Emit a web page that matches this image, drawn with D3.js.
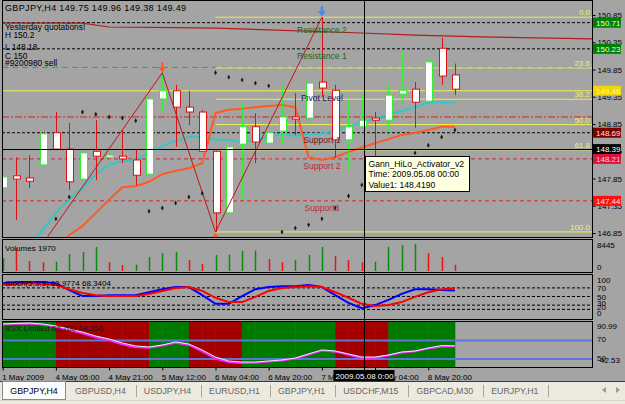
<!DOCTYPE html>
<html>
<head>
<meta charset="utf-8">
<title>GBPJPY,H4</title>
<script src="https://cdn.jsdelivr.net/npm/d3@7/dist/d3.min.js"></script>
<style>
    body { margin: 0; background: #a4a4a4; overflow: hidden; }
    svg { display: block; font-family: "Liberation Sans", Arial, sans-serif; font-size: 8px; }
</style>
</head>
<body>
<svg id="chart" width="625" height="404"></svg>
<script>
/**
 * GBPJPY,H4 terminal chart: candles + levels, volumes, stochastic, RSX
 */

// H4 bars, 1 May 2009 .. 11 May 2009
var opens  = [147.68, 147.90, 147.86, 148.10, 148.69, 148.39, 147.84, 148.35, 148.24, 148.26, 148.19, 147.93, 149.31, 149.46, 149.16, 149.07, 148.35, 147.22, 148.48, 148.80, 148.50, 148.72, 148.98, 148.96, 149.62, 149.47, 148.56, 148.80, 148.96, 148.92, 149.40, 149.49, 149.27, 150.24, 149.75];
var highs  = [147.91, 148.24, 148.28, 148.70, 149.07, 148.87, 148.37, 148.92, 148.56, 148.74, 148.39, 149.69, 149.78, 149.57, 149.46, 149.11, 148.37, 148.80, 149.24, 149.05, 148.80, 149.57, 149.42, 149.66, 150.81, 149.57, 149.29, 149.40, 149.07, 149.57, 150.17, 149.62, 150.06, 150.43, 149.96];
var lows   = [147.60, 147.09, 147.68, 147.82, 148.37, 147.64, 147.24, 147.82, 147.73, 148.13, 147.73, 147.88, 149.07, 148.43, 148.83, 148.34, 146.87, 147.14, 147.46, 148.13, 148.06, 148.50, 148.65, 148.89, 149.35, 148.23, 148.01, 148.78, 148.19, 148.70, 149.24, 148.78, 149.25, 149.57, 149.38];
var closes = [147.88, 147.84, 147.80, 148.67, 148.39, 147.79, 148.32, 148.26, 148.28, 148.21, 147.91, 149.31, 149.46, 149.16, 149.07, 148.35, 147.22, 148.43, 148.80, 148.52, 148.69, 148.98, 148.94, 149.60, 149.51, 148.56, 148.80, 148.92, 148.92, 149.38, 149.47, 149.25, 149.99, 149.73, 149.49];

var volumes  = [4000, 7200, 3130, 2700, 2900, 5300, 5950, 7500, 2800, 1900, 2000, 4400, 5600, 5950, 3450, 2200, 5000, 5100, 6300, 6450, 3750, 2800, 3450, 5000, 7500, 4700, 3450, 2700, 2900, 7500, 8100, 8445, 5600, 4400, 1970];
var volumeUp = [1, 0, 0, 0, 1, 1, 1, 1, 0, 0, 1, 1, 1, 1, 0, 0, 1, 1, 1, 1, 0, 0, 1, 1, 1, 0, 0, 0, 1, 1, 1, 1, 0, 0, 0];

// indicators on the price window
var maCyan   = [null, null, 146.62, 146.90, 147.22, 147.46, 147.68, 147.93, 148.10, 148.17, 148.19, 148.32, 148.45, 148.54, 148.61, 148.61, 148.56, 148.56, 148.52, 148.56, 148.61, 148.67, 148.63, 148.67, 148.67, 148.74, 148.81, 148.87, 148.96, 149.02, 149.09, 149.16, 149.24, 149.25, 149.25];
var gannHiLo = [null, null, null, null, 146.60, 146.81, 146.98, 147.22, 147.46, 147.69, 147.71, 147.79, 147.93, 147.99, 148.04, 148.13, 149.05, 149.11, 149.13, 149.16, 149.18, 149.20, 149.16, 148.24, 148.19, 148.24, 148.34, 148.419, 148.50, 148.57, 148.65, 148.69, 148.74, 148.80, 148.80];
var sarDots  = [null, null, null, null, 147.11, 147.51, 149.07, 149.03, 148.98, 148.96, 148.91, 147.25, 147.31, 147.40, 147.51, 147.58, 149.79, 149.71, 149.66, 149.60, 149.55, 146.87, 146.94, 147.00, 147.11, 147.31, 147.53, 147.73, 147.91, 148.06, 148.19, 148.32, 148.46, 148.61, 148.74];
var zigzagBars   = [2, 12, 16, 24];
var zigzagPrices = [146.30, 149.79, 146.87, 150.81];
var dailyLineBars   = [0, 6, 8, 13, 16, 27, 31, 36, 44.5];
var dailyLinePrices = [150.70, 150.70, 150.63, 150.62, 150.61, 150.52, 150.48, 150.45, 150.41];

// pivot levels and fibo
var levelNames  = ["Resistance 2", "Resistance 1", "Pivot Level", "Support 1", "Support 2", "Support3"];
var levelPrices = [150.71, 150.23, 149.46, 148.69, 148.21, 147.44];
var fiboRatios  = [0.0, 23.6, 38.2, 50.0, 61.8, 100.0];
var fiboHigh = 150.81, fiboLow = 146.87, fiboFromBar = 16;
var orderPrice = 149.89, orderText = "#9200980 sell";
var dashDotPrice = 148.98;
var yesterdayLines = ["Yesterday quotations!", "H 150.2", "L 148.18", "C 150"];

// sub windows
var stochMain   = [81, 84, 84, 84, 81, 65, 51, 51, 53, 53, 53, 60, 67, 72, 72, 53, 33, 33, 51, 67, 72, 74, 74, 77, 72, 53, 35, 23, 30, 42, 56, 67, 67, 65, 63.98];
var stochSignal = [77, 79, 81, 79, 77, 67, 58, 53, 51, 51, 51, 56, 63, 70, 72, 63, 47, 37, 37, 49, 63, 70, 72, 74, 72, 60, 47, 33, 28, 30, 37, 49, 60, 67, 68.34];
var stochLevels = [70, 50, 30, 20];
var rsxLine   = [87.8, 88.3, 88.8, 87.8, 85.6, 82.4, 79.1, 74.8, 71.6, 67.3, 64.1, 63.0, 65.1, 68.4, 66.2, 59.8, 52.2, 47.9, 46.8, 46.8, 47.9, 49.0, 51.1, 55.5, 59.8, 58.7, 55.5, 52.2, 52.2, 54.4, 57.6, 58.7, 61.9, 64.5, 64.256];
var rsxSignal = [87.5, 88.0, 88.3, 87.2, 84.8, 81.3, 77.8, 73.5, 70.2, 66.0, 62.8, 62.2, 64.5, 67.6, 65.2, 58.3, 50.6, 46.5, 45.8, 46.0, 47.3, 48.5, 50.6, 55.0, 59.3, 58.0, 54.6, 51.2, 51.5, 53.8, 57.1, 58.3, 61.4, 63.5, 63.7];
var rsxUp     = [1, 1, 1, 1, 1, 0, 0, 0, 0, 0, 0, 0, 1, 1, 1, 0, 0, 0, 0, 1, 1, 1, 1, 1, 1, 1, 0, 0, 0, 0, 1, 1, 1, 1, 1];
var rsxLevels = [70, 50];

// axes
var priceTicks = [150.85, 150.35, 149.85, 149.35, 148.85, 148.35, 147.85, 147.35, 146.85];
var timeTickBars   = [0, 4, 8, 12, 16, 20, 24, 28, 32];
var timeTickLabels = ["1 May 2009", "4 May 05:00", "4 May 21:00", "5 May 12:00", "6 May 04:00", "6 May 20:00", "7 May 12:00", "8 May 04:00", "8 May 20:00"];
var tabNames = ["GBPJPY,H4", "GBPUSD,H4", "USDJPY,H4", "EURUSD,H1", "GBPJPY,H1", "USDCHF,M15", "GBPCAD,M30", "EURJPY,H1"];

// cursor
var crossBar = 27, crossOffset = 0.2, crossPrice = 148.39;
var tipLines = ["Gann_HiLo_Activator_v2", "Time: 2009.05.08 00:00", "Value1: 148.4190"];
var crossTimeText = "2009.05.08 0:00";

(function () {

    var FONT = '"Liberation Sans", Arial, sans-serif';
    var plotL = 2, plotR = 592;
    var svg = d3.select("#chart");

    var panels = {
        main:  { top: 0,   bottom: 237 },
        vol:   { top: 239, bottom: 272 },
        stoch: { top: 274, bottom: 319 },
        rsx:   { top: 321, bottom: 367 }
    };

    var x = d3.scaleLinear().domain([0, 34]).range([2.7, 454.9]);
    var yMain  = d3.scaleLinear().domain([146.777, 151.089]).range([237, 2]);
    var yVol   = d3.scaleLinear().domain([0, 8445]).range([271, 244]);
    var yStoch = d3.scaleLinear().domain([0, 100]).range([318, 275]);
    var yRsx   = d3.scaleLinear().domain([42.53, 90.99]).range([366, 321]);

    var bars = d3.range(opens.length);

    svg.append("rect").attr("width", 625).attr("height", 404).attr("fill", "#a4a4a4");

    function makePanel(name) {
        var p = panels[name];
        svg.append("clipPath").attr("id", "clip-" + name)
            .append("rect")
            .attr("x", plotL + 1).attr("y", p.top + 1)
            .attr("width", plotR - plotL - 1).attr("height", p.bottom - p.top - 1);
        return svg.append("g").attr("clip-path", "url(#clip-" + name + ")");
    }

    function hline(g, yv, color, dash, width) {
        return g.append("line")
            .attr("x1", plotL).attr("x2", plotR)
            .attr("y1", yv).attr("y2", yv)
            .attr("stroke", color).attr("stroke-width", width || 1)
            .attr("stroke-dasharray", dash || null);
    }

    var lineGen = function (scale) {
        return d3.line()
            .defined(function (d) { return d != null; })
            .x(function (d, i) { return x(i); })
            .y(function (d) { return scale(d); });
    };

    // ---------- main window ----------
    var main = makePanel("main");

    hline(main, yMain(orderPrice), "#20b020", "6,4");
    hline(main, yMain(dashDotPrice), "#d02828", "7,2,2,2");

    var levelStyles = [
        { line: "#000000", dash: "3,2", text: "#226622" },
        { line: "#000000", dash: "3,2", text: "#226622" },
        { line: "#eeee55", dash: null,  text: "#202058" },
        { line: "#000000", dash: "3,2", text: "#701818" },
        { line: "#d0203c", dash: "4,3", text: "#c02838" },
        { line: "#e02020", dash: "4,3", text: "#c02838" }
    ];
    levelPrices.forEach(function (p, i) {
        hline(main, yMain(p), levelStyles[i].line, levelStyles[i].dash);
    });

    // fibo from the low at bar 16, extended right
    fiboRatios.forEach(function (r) {
        var yv = yMain(fiboHigh - (fiboHigh - fiboLow) * r / 100);
        main.append("line")
            .attr("x1", x(fiboFromBar)).attr("x2", plotR)
            .attr("y1", yv).attr("y2", yv)
            .attr("stroke", "#eeee55").attr("stroke-width", 1);
    });

    main.append("path")
        .attr("d", d3.line()
            .x(function (d, i) { return x(dailyLineBars[i]); })
            .y(function (d) { return yMain(d); })(dailyLinePrices))
        .attr("fill", "none").attr("stroke", "#b41c1c").attr("stroke-width", 1.2);

    main.append("path").attr("d", lineGen(yMain)(maCyan))
        .attr("fill", "none").attr("stroke", "#33c6c6").attr("stroke-width", 2);
    main.append("path").attr("d", lineGen(yMain)(gannHiLo))
        .attr("fill", "none").attr("stroke", "#ff5a22").attr("stroke-width", 2);

    // candles
    var candle = main.selectAll("g.candle").data(bars).enter().append("g").attr("class", "candle");
    candle.append("line")
        .attr("x1", function (i) { return Math.round(x(i)) + 0.5; })
        .attr("x2", function (i) { return Math.round(x(i)) + 0.5; })
        .attr("y1", function (i) { return yMain(highs[i]); })
        .attr("y2", function (i) { return yMain(lows[i]); })
        .attr("stroke", function (i) { return closes[i] >= opens[i] ? "#33ee33" : "#dd1111"; });
    candle.append("rect")
        .attr("x", function (i) { return Math.round(x(i)) - 3 + 0.5; })
        .attr("width", 7)
        .attr("y", function (i) { return yMain(Math.max(opens[i], closes[i])); })
        .attr("height", function (i) { return Math.max(1, Math.abs(yMain(opens[i]) - yMain(closes[i]))); })
        .attr("fill", "#ffffff")
        .attr("stroke", function (i) { return closes[i] >= opens[i] ? "#33ee33" : "#dd1111"; });

    // zigzag
    main.append("path")
        .attr("d", d3.line()
            .x(function (d, i) { return x(zigzagBars[i]); })
            .y(function (d) { return yMain(d); })(zigzagPrices))
        .attr("fill", "none").attr("stroke", "#c41414").attr("stroke-width", 1);

    // sar dots
    main.selectAll("path.dot").data(bars.filter(function (i) { return sarDots[i] != null; }))
        .enter().append("path").attr("class", "dot")
        .attr("transform", function (i) { return "translate(" + x(i) + "," + yMain(sarDots[i]) + ")"; })
        .attr("d", d3.symbol().type(d3.symbolDiamond).size(7))
        .attr("fill", "#1a1a1a");

    // zigzag arrows
    var downArrow = "M-1.2,-10 L1.2,-10 L1.2,-5 L4,-5 L0,0 L-4,-5 L-1.2,-5 Z";
    main.append("path").attr("d", downArrow).attr("fill", "#ff5a22")
        .attr("transform", "translate(" + x(12) + "," + (yMain(highs[12]) - 1) + ")");
    main.append("path").attr("d", downArrow).attr("fill", "#3a8ef0")
        .attr("transform", "translate(" + x(24) + "," + (yMain(highs[24]) - 1) + ")");
    main.append("path").attr("d", downArrow).attr("fill", "#ff5a22")
        .attr("transform", "translate(" + x(16) + "," + (yMain(lows[16]) + 1) + ") rotate(180)");

    // level captions
    levelNames.forEach(function (n, i) {
        main.append("text")
            .attr("x", x(24)).attr("y", yMain(levelPrices[i]) + 10)
            .attr("text-anchor", "middle").attr("font-size", 8.6)
            .attr("fill", levelStyles[i].text)
            .text(n);
    });
    fiboRatios.forEach(function (r) {
        main.append("text")
            .attr("x", plotR - 2).attr("y", yMain(fiboHigh - (fiboHigh - fiboLow) * r / 100) - 2)
            .attr("text-anchor", "end").attr("fill", "#f2f266")
            .text(r.toFixed(1));
    });

    main.append("text").attr("x", 5).attr("y", 11)
        .attr("font-size", 9).attr("letter-spacing", 0.35)
        .text("GBPJPY,H4  " + [opens[34], highs[34], lows[34], closes[34]].map(function (v) { return v.toFixed(2); }).join(" "));
    var yBase = [30, 37.5, 49.5, 59];
    yesterdayLines.forEach(function (t, i) {
        main.append("text").attr("x", 5).attr("y", yBase[i]).attr("font-size", 8.4).text(t);
    });
    main.append("text").attr("x", 5).attr("y", 65.5).attr("font-size", 8.4).text(orderText);

    // ---------- volumes ----------
    var vol = makePanel("vol");
    vol.selectAll("line.vbar").data(bars).enter().append("line").attr("class", "vbar")
        .attr("x1", function (i) { return Math.round(x(i)) + 0.5; })
        .attr("x2", function (i) { return Math.round(x(i)) + 0.5; })
        .attr("y1", yVol(0))
        .attr("y2", function (i) { return yVol(volumes[i]); })
        .attr("stroke", function (i) { return volumeUp[i] ? "#0a8a0a" : "#ee1111"; })
        .attr("stroke-width", 1.5);
    vol.append("text").attr("x", 5).attr("y", 251).text("Volumes " + volumes[34]);

    // ---------- stochastic ----------
    var sto = makePanel("stoch");
    stochLevels.forEach(function (l) { hline(sto, yStoch(l), "#000000", "3,2"); });
    sto.append("path").attr("d", lineGen(yStoch)(stochMain))
        .attr("fill", "none").attr("stroke", "#0000ff").attr("stroke-width", 2);
    sto.append("path").attr("d", lineGen(yStoch)(stochSignal))
        .attr("fill", "none").attr("stroke", "#ff0000").attr("stroke-width", 2);
    sto.append("text").attr("x", 5).attr("y", 286)
        .text("Stoch(5,3,3) " + (63.9774).toFixed(4) + " " + (68.3404).toFixed(4));

    // ---------- RSX ----------
    var rsx = makePanel("rsx");
    rsx.selectAll("rect.band").data(bars).enter().append("rect").attr("class", "band")
        .attr("x", function (i) { return x(i - 1); })
        .attr("width", x(1) - x(0) + 0.4)
        .attr("y", panels.rsx.top).attr("height", panels.rsx.bottom - panels.rsx.top)
        .attr("fill", function (i) { return rsxUp[i] ? "#007a00" : "#a40000"; });
    rsxLevels.forEach(function (l) { hline(rsx, yRsx(l), "#5a78d2", null, 2); });
    rsx.append("path").attr("d", lineGen(yRsx)(rsxSignal))
        .attr("fill", "none").attr("stroke", "#ff22ff").attr("stroke-width", 2);
    rsx.append("path").attr("d", lineGen(yRsx)(rsxLine))
        .attr("fill", "none").attr("stroke", "#d8f4ff").attr("stroke-width", 1);
    rsx.append("text").attr("x", 5).attr("y", 331).attr("fill", "#1a1a1a")
        .text("RSX Limited " + rsxSignal[34].toFixed(3) + " " + rsxLine[34].toFixed(3));

    // panel frames
    Object.keys(panels).forEach(function (k) {
        var p = panels[k];
        svg.append("rect")
            .attr("x", plotL + 0.5).attr("y", p.top + 0.5)
            .attr("width", plotR - plotL).attr("height", p.bottom - p.top)
            .attr("fill", "none").attr("stroke", "#000000");
    });

    // ---------- right scales ----------
    var pa = svg.append("g").attr("transform", "translate(" + (plotR + 0.5) + ",0)")
        .call(d3.axisRight(yMain).tickValues(priceTicks).tickSize(3).tickPadding(2).tickFormat(d3.format(".2f")));
    pa.select(".domain").remove();
    pa.attr("font-family", FONT).attr("font-size", 8);
    pa.selectAll("text").attr("fill", "#000");

    var boxStyles = [
        { bg: "#008000", fg: "#e8ffe8" },
        { bg: "#008000", fg: "#e8ffe8" },
        { bg: "#f2d600", fg: "#fff6a0" },
        { bg: "#7a0000", fg: "#ffe0e0" },
        { bg: "#000000", fg: "#ffffff" },
        { bg: "#dc143c", fg: "#ffd0d8" },
        { bg: "#ff1010", fg: "#ffe0e0" }
    ];
    var boxPrices = levelPrices.slice(0, 4).concat([crossPrice], levelPrices.slice(4));
    boxPrices.forEach(function (p, i) {
        var yv = yMain(p);
        svg.append("rect").attr("x", plotR + 1).attr("y", yv - 5)
            .attr("width", 28).attr("height", 10).attr("fill", boxStyles[i].bg);
        svg.append("text").attr("x", plotR + 4).attr("y", yv + 3)
            .attr("fill", boxStyles[i].fg).text(p.toFixed(2));
    });

    function sideLabel(t, yv, dx) {
        svg.append("text").attr("x", plotR + 5 + (dx || 0)).attr("y", yv + 3).text(t);
    }
    sideLabel("8445", yVol(8445) + 1);
    sideLabel("0", 267);
    sideLabel("100", yStoch(100) + 5);
    stochLevels.forEach(function (l) { sideLabel(String(l), yStoch(l) + (l === 20 ? -2 : 0) + (l === 30 ? -2 : 0)); });
    sideLabel("0", yStoch(0) - 5);
    sideLabel("90.99", yRsx(90.99) + 5);
    rsxLevels.forEach(function (l) { sideLabel(String(l), yRsx(l) - 1); });
    sideLabel("42.53", yRsx(50) + 1, 3);

    // ---------- time axis ----------
    var ta = svg.append("g").attr("transform", "translate(0," + (panels.rsx.bottom + 0.5) + ")")
        .call(d3.axisBottom(x).tickValues(timeTickBars).tickSize(3).tickPadding(4)
            .tickFormat(function (d, i) { return timeTickLabels[i]; }));
    ta.select(".domain").remove();
    ta.attr("font-family", FONT).attr("font-size", 8);
    ta.selectAll("text").attr("text-anchor", "start").attr("x", -1).attr("fill", "#000");

    // ---------- crosshair + tooltip ----------
    var cx = Math.round(x(crossBar + crossOffset)) + 0.5;
    var cy = Math.round(yMain(crossPrice)) + 0.5;
    svg.append("line").attr("x1", cx).attr("x2", cx).attr("y1", 0).attr("y2", panels.rsx.bottom + 3)
        .attr("stroke", "#000");
    main.append("line").attr("x1", plotL).attr("x2", plotR).attr("y1", cy).attr("y2", cy)
        .attr("stroke", "#000");

    svg.append("rect").attr("x", cx - 31).attr("y", panels.rsx.bottom + 3)
        .attr("width", 61).attr("height", 11).attr("fill", "#000");
    svg.append("text").attr("x", cx).attr("y", panels.rsx.bottom + 12)
        .attr("text-anchor", "middle").attr("fill", "#fff").text(crossTimeText);

    var tip = svg.append("g").attr("transform", "translate(" + (cx + 1) + "," + (cy + 7) + ")");
    tip.append("rect").attr("width", 104).attr("height", 35)
        .attr("fill", "#ffffe1").attr("stroke", "#000");
    tipLines.forEach(function (t, i) {
        tip.append("text").attr("x", 3).attr("y", 10 + i * 10.5).attr("font-size", 8.6).text(t);
    });

    // ---------- symbol tabs ----------
    var tabs = svg.append("g").attr("font-size", 8.8);
    tabs.append("rect").attr("y", 381).attr("width", 625).attr("height", 23).attr("fill", "#ece9df");
    tabs.append("line").attr("x1", 0).attr("x2", 625).attr("y1", 381.5).attr("y2", 381.5).attr("stroke", "#3c3c3c");
    tabs.append("rect").attr("x", 2.5).attr("y", 381.5).attr("width", 63).attr("height", 18)
        .attr("fill", "#fcfcfc").attr("stroke", "#8a8a8a");
    tabs.append("text").attr("x", 34).attr("y", 394).attr("text-anchor", "middle").attr("fill", "#000").text(tabNames[0]);

    var cursor = 75;
    tabNames.slice(1).forEach(function (n) {
        var t = tabs.append("text").attr("x", cursor).attr("y", 394).attr("fill", "#666666").text(n);
        var sep = cursor + t.node().getComputedTextLength() + 10;
        tabs.append("line").attr("x1", Math.round(sep) + 0.5).attr("x2", Math.round(sep) + 0.5)
            .attr("y1", 385).attr("y2", 397).attr("stroke", "#a8a49a");
        cursor = sep + 8;
    });
    tabs.append("path").attr("d", "M606,387 L602,390 L606,393 Z").attr("fill", "#9a9a9a");
    tabs.append("path").attr("d", "M616,387 L620,390 L616,393 Z").attr("fill", "#9a9a9a");
    tabs.append("line").attr("x1", 0).attr("x2", 625).attr("y1", 400.5).attr("y2", 400.5).attr("stroke", "#d8d4c8");

})();
</script>
</body>
</html>
